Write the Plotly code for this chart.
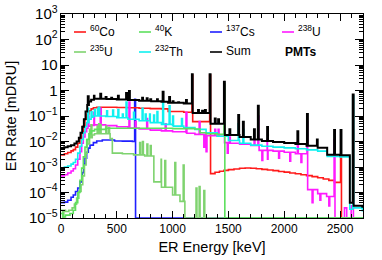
import plotly.graph_objects as go

# ---------------- data (energy in keV, rate in mDRU) ----------------
# 60Co
co60_E = [0, 30, 60, 90, 110, 130, 150, 170, 185, 200, 215, 230, 250, 270, 290, 320, 400, 500, 600, 700,
          800, 900, 960, 1100, 1180, 1340, 1380, 1420, 1460, 1500, 1550, 1600, 1650, 1700, 1750, 1800,
          1850, 1900, 1950, 2000, 2050, 2100, 2150, 2200, 2250, 2300, 2350, 2400, 2450, 2513]
co60_R = [3.0e-3, 3.3e-3, 3.7e-3, 4.3e-3, 4.8e-3, 6e-3, 8.5e-3, 1.3e-2, 2.2e-2, 4e-2, 7.5e-2, 0.12, 0.16,
          0.19, 0.21, 0.22, 0.22, 0.215, 0.21, 0.2, 0.195, 0.19, 0.15, 0.14, 0.06, 5.5e-4, 6.2e-4, 6.8e-4,
          7.4e-4, 7.9e-4, 8.4e-4, 8.9e-4, 9.1e-4, 8.9e-4, 8.5e-4, 8.1e-4, 7.6e-4, 7.2e-4, 6.7e-4, 6.3e-4,
          5.8e-4, 5.4e-4, 5.0e-4, 4.6e-4, 4.2e-4, 3.8e-4, 3.4e-4, 3.0e-4, 2.5e-4, 1e-7]
co60_pE = [1173, 1332, 2505]
co60_pR = [4.0, 4.0, 2.5e-3]

# 40K
k40_E = [0, 20, 40, 80, 110, 130, 150, 170, 185, 200, 215, 230, 250, 270, 300, 400, 600, 800, 1000,
         1100, 1200, 1245, 1300, 1400, 1468, 2710]
k40_R = [1.5e-5, 1.1e-5, 1.3e-5, 1.5e-5, 2e-5, 4e-5, 1e-4, 3e-4, 9e-4, 2.5e-3, 6e-3, 1.2e-2, 2e-2,
         2.6e-2, 3e-2, 3.3e-2, 3.3e-2, 3.3e-2, 3.2e-2, 3.2e-2, 3.1e-2, 2.2e-2, 2.0e-2, 1.9e-2, 1e-5, 1e-5]
k40_pE = [1460]
k40_pR = [1.8]

# 137Cs
cs137_E = [0, 30, 60, 90, 110, 130, 150, 170, 190, 205, 215, 230, 245, 260, 290, 320, 370, 450, 480,
           550, 640, 668, 2710]
cs137_R = [4e-5, 4.2e-5, 5e-5, 6.5e-5, 8e-5, 1.1e-4, 1.5e-4, 2.6e-4, 6e-4, 1.3e-3, 2.2e-3, 3.8e-3,
           5.5e-3, 7.2e-3, 9e-3, 1.05e-2, 1.14e-2, 1.15e-2, 1.05e-2, 1.03e-2, 1.0e-2, 1e-5, 1e-5]
cs137_pE = [660]
cs137_pR = [0.45]

# 238U
u238_E = [0, 30, 60, 90, 110, 130, 150, 170, 185, 200, 215, 230, 250, 270, 300, 400, 500, 600, 700,
          800, 900, 1000, 1120, 1200, 1300, 1400, 1465, 1500, 1600, 1700, 1775, 1900, 2000, 2100, 2210,
          2300, 2380, 2455, 2540, 2560, 2600, 2620]
u238_R = [4.5e-4, 5e-4, 5.8e-4, 7e-4, 8.5e-4, 1.2e-3, 2e-3, 4e-3, 8.5e-3, 1.5e-2, 2.4e-2, 3.3e-2, 4e-2,
          4.3e-2, 4.5e-2, 4.2e-2, 3.8e-2, 3.4e-2, 3.1e-2, 2.8e-2, 2.6e-2, 2.4e-2, 2.1e-2, 1.9e-2, 1.7e-2,
          1.6e-2, 9e-3, 8.5e-3, 7.8e-3, 7e-3, 4.5e-3, 4.2e-3, 3.8e-3, 3.3e-3, 1.3e-4, 9e-5, 7e-5, 1e-7,
          2.5e-5, 1e-7, 3e-5, 1e-7]
u238_pE = [242, 295, 352, 609, 665, 768, 934, 1120, 1238, 1280, 1300, 1378, 1408, 1490, 1509, 1730, 1764,
           1800, 1847, 1850, 1950, 2050, 2118, 2150, 2204, 2250, 2320, 2400, 2447]
u238_pR = [0.1, 0.14, 0.2, 0.35, 0.06, 0.08, 0.05, 0.14, 0.06, 6e-3, 4e-3, 0.03, 0.03, 3.5e-3, 0.015,
           0.012, 0.1, 1.8e-3, 0.012, 2e-3, 2.2e-3, 1.7e-3, 0.01, 1.5e-3, 0.06, 4e-5, 5e-5, 3e-5, 0.012]

# 235U
u235_E = [0, 15, 25, 40, 70, 100, 120, 140, 160, 180, 195, 210, 225, 240, 260, 280, 300, 440, 460, 550,
          650, 750, 832, 900, 1000, 1066, 1110, 2710]
u235_R = [2e-5, 1e-7, 2e-5, 1.8e-5, 2e-5, 2.5e-5, 3.5e-5, 6e-5, 1.1e-4, 2e-4, 4.5e-4, 1.2e-3, 3.5e-3,
          8e-3, 1.4e-2, 1.8e-2, 2e-2, 1.3e-2, 3.5e-3, 3.3e-3, 3e-3, 2.7e-3, 2.6e-4, 1.6e-4, 8e-5, 4.5e-5,
          1e-5, 1e-5]
u235_pE = [236, 256, 269, 324, 338, 351, 402, 427, 705, 730, 770, 800, 897, 930, 1020, 1095, 1210, 1238, 1280]
u235_pR = [0.012, 0.03, 0.045, 0.04, 0.05, 0.045, 0.04, 0.035, 9e-3, 1e-2, 8e-3, 7e-3, 2e-3, 1.8e-3,
           1.5e-3, 1.2e-3, 1.5e-4, 1.7e-4, 1.2e-4]

# 232Th
th232_E = [0, 30, 60, 90, 110, 130, 150, 170, 185, 200, 215, 230, 250, 270, 290, 400, 500, 600, 700, 800,
           900, 1000, 1100, 1200, 1300, 1400, 1500, 1600, 1700, 1800, 1900, 2000, 2100, 2200, 2300, 2385,
           2500, 2588, 2622, 2700]
th232_R = [9e-4, 1.0e-3, 1.1e-3, 1.3e-3, 1.5e-3, 2.0e-3, 3.5e-3, 6.5e-3, 1.2e-2, 2.2e-2, 3.8e-2, 5.5e-2,
           7.5e-2, 9e-2, 0.1, 0.095, 0.085, 0.075, 0.065, 0.055, 0.047, 0.04, 0.035, 0.03, 0.022, 0.016,
           0.011, 0.0085, 0.0072, 0.0065, 0.006, 0.0056, 0.0052, 0.0047, 0.0042, 0.0026, 0.0025, 2.2e-5,
           2.5e-5, 1.8e-5]
th232_pE = [239, 270, 300, 328, 338, 409, 463, 510, 550, 583, 650, 727, 755, 794, 830, 860, 911, 969,
            1000, 1080, 1588, 1630, 2614]
th232_pR = [0.2, 0.15, 0.18, 0.2, 0.22, 0.16, 0.17, 0.18, 0.12, 0.35, 0.14, 0.2, 0.12, 0.12, 0.11, 0.15,
            0.4, 0.25, 0.1, 0.08, 0.05, 0.03, 0.6]

# Sum
sum_E = [0, 30, 60, 90, 120, 140, 160, 175, 190, 205, 220, 235, 250, 270, 300, 400, 500, 600, 700, 800,
         900, 960, 1100, 1180, 1340, 1468, 1600, 1700, 1800, 1900, 2000, 2100, 2200, 2300, 2385, 2500,
         2588, 2622, 2700]
sum_R = [5.5e-3, 6e-3, 6.5e-3, 7.2e-3, 8.3e-3, 1.0e-2, 1.4e-2, 2.2e-2, 3.8e-2, 7.5e-2, 0.15, 0.27, 0.37,
         0.43, 0.47, 0.46, 0.44, 0.42, 0.40, 0.38, 0.36, 0.33, 0.31, 0.13, 0.05, 0.018, 0.015, 0.012,
         0.0105, 0.0095, 0.0088, 0.008, 0.0068, 0.0057, 0.003, 0.0029, 4e-5, 3e-5, 2.5e-5]
sum_pE = [240, 295, 352, 400, 450, 510, 583, 609, 727, 768, 800, 860, 911, 969, 1000, 1050, 1120, 1173,
          1228, 1264, 1290, 1332, 1378, 1408, 1460, 1509, 1588, 1630, 1729, 1764, 1847, 2118, 2204, 2293,
          2447, 2505, 2614]
sum_pR = [0.6, 0.62, 0.75, 0.55, 0.52, 0.62, 0.8, 0.95, 0.52, 0.5, 0.45, 0.45, 0.9, 0.55, 0.38, 0.35,
          0.42, 4.3, 0.17, 0.16, 0.17, 4.3, 0.08, 0.075, 2.2, 0.03, 0.11, 0.06, 0.03, 0.25, 0.037, 0.025,
          0.12, 0.012, 0.028, 0.028, 0.7]

x_range = [0, 2706]
y_range_log = [-5, 3]

# ---------------- helpers ----------------
BIN = 8  # keV width of a single spectral bin used for line peaks


def with_peaks(E, R, pE, pR):
    """Insert single-bin peaks into a step-histogram continuum."""
    pts = [(e, 0, r) for e, r in zip(E, R)]
    for e, r in zip(pE, pR):
        back = [v for x, v in zip(E, R) if x <= e + BIN][-1]
        pts.append((e, 1, r))
        pts.append((e + BIN, 1, back))
    pts.sort(key=lambda p: (p[0], p[1]))
    return [p[0] for p in pts], [p[2] for p in pts]


series = [
    ("<sup>137</sup>Cs", cs137_E, cs137_R, cs137_pE, cs137_pR, "#1f1fff", 1.6),
    ("<sup>60</sup>Co", co60_E, co60_R, co60_pE, co60_pR, "#ff1a1a", 1.6),
    ("<sup>238</sup>U", u238_E, u238_R, u238_pE, u238_pR, "#ff1aff", 1.6),
    ("<sup>235</sup>U", u235_E, u235_R, u235_pE, u235_pR, "#7fd36f", 1.6),
    ("<sup>232</sup>Th", th232_E, th232_R, th232_pE, th232_pR, "#10f0f0", 1.6),
    ("<sup>40</sup>K", k40_E, k40_R, k40_pE, k40_pR, "#5ee05e", 1.6),
    ("Sum", sum_E, sum_R, sum_pE, sum_pR, "#000000", 2.0),
]

fig = go.Figure()
for name, E, R, pE, pR, col, lw in series:
    x, y = with_peaks(E, R, pE, pR)
    fig.add_trace(go.Scatter(x=x, y=y, mode="lines", name=name, showlegend=False,
                             line=dict(color=col, width=lw, shape="hv")))

# ---------------- legend (drawn in paper coords) ----------------
L, R_, T, B = 61, 363, 14, 218
W, H = R_ - L, B - T


def px(xp):
    return (xp - L) / W


def py(yp):
    return (B - yp) / H


legend_items = [
    ("<sup>60</sup>Co", "#ff1a1a", 74, 32), ("<sup>40</sup>K", "#5ee05e", 139, 32),
    ("<sup>137</sup>Cs", "#1f1fff", 210, 32), ("<sup>238</sup>U", "#ff1aff", 282, 32),
    ("<sup>235</sup>U", "#7fd36f", 74, 52), ("<sup>232</sup>Th", "#10f0f0", 139, 52),
    ("Sum", "#000000", 210, 52),
]
for txt, col, x0, y0 in legend_items:
    fig.add_shape(type="line", xref="paper", yref="paper", x0=px(x0), x1=px(x0 + 12),
                  y0=py(y0), y1=py(y0), line=dict(color=col, width=1.6))
    fig.add_annotation(xref="paper", yref="paper", x=px(x0 + 14), y=py(y0 - 1), text=txt,
                       showarrow=False, xanchor="left", yanchor="middle",
                       font=dict(size=12, color="black"))
fig.add_annotation(xref="paper", yref="paper", x=px(300), y=py(52), text="<b>PMTs</b>",
                   showarrow=False, xanchor="center", yanchor="middle", font=dict(size=12, color="black"))

fig.update_layout(
    width=382, height=260,
    margin=dict(l=L, r=382 - R_, t=T, b=260 - B, autoexpand=False),
    paper_bgcolor="white", plot_bgcolor="white",
    font=dict(family="Liberation Sans, Arial, sans-serif", size=12, color="black"),
)
fig.update_xaxes(
    range=x_range, dtick=500, tick0=0, ticks="inside", ticklen=7, tickcolor="black", automargin=False,
    showline=True, linecolor="black", linewidth=1, mirror="allticks", showgrid=False, zeroline=False,
    minor=dict(ticks="inside", ticklen=4, dtick=100, tickcolor="black", showgrid=False),
    title=dict(text="ER Energy [keV]", font=dict(size=14.5), standoff=6),
    tickfont=dict(size=12),
)
fig.update_yaxes(
    type="log", range=y_range_log, dtick=1, exponentformat="power", ticks="inside", ticklen=8,
    tickcolor="black", showline=True, linecolor="black", linewidth=1, mirror="allticks", automargin=False,
    showgrid=False, zeroline=False,
    minor=dict(ticks="inside", ticklen=4, dtick="D1", tickcolor="black", showgrid=False),
    title=dict(text="ER Rate [mDRU]", font=dict(size=14.5), standoff=8),
    tickfont=dict(size=12),
)

fig.write_html("out.html", config={"displayModeBar": False},
               post_script="document.body.style.margin='0';")
